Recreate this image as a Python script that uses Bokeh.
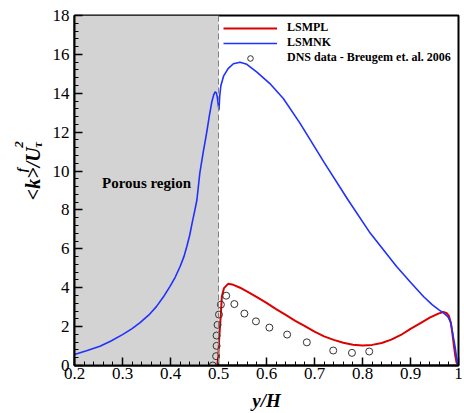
from math import pi
from bokeh.plotting import figure
from bokeh.layouts import row
from bokeh.models import Label, Span, Legend, LegendItem, FixedTicker
from bokeh.embed import file_html
from bokeh.resources import INLINE

# ---------------- data ----------------
x_ticks = [0.2, 0.3, 0.4, 0.5, 0.6, 0.7, 0.8, 0.9, 1.0]
x_tick_labels = ["0.2", "0.3", "0.4", "0.5", "0.6", "0.7", "0.8", "0.9", "1"]
y_ticks = [0, 2, 4, 6, 8, 10, 12, 14, 16, 18]

porous_region = [0.2, 0.5]
interface_x = 0.5

# LSMNK (blue)
nk_x = [0.200, 0.225, 0.253, 0.275, 0.300, 0.320, 0.336, 0.355, 0.371, 0.385,
        0.399, 0.410, 0.420, 0.428, 0.434, 0.440, 0.445, 0.450, 0.455,
        0.461, 0.468, 0.475, 0.481, 0.486, 0.490, 0.493, 0.4955, 0.4975, 0.4995,
        0.501, 0.5025, 0.505, 0.5105, 0.520, 0.531, 0.545, 0.559, 0.580, 0.607,
        0.635, 0.670, 0.720, 0.770, 0.816, 0.871, 0.900, 0.927, 0.945, 0.960,
        0.970, 0.978, 0.984, 0.989, 0.993, 0.9975, 1.000]
nk_y = [0.56, 0.76, 0.99, 1.25, 1.59, 1.90, 2.19, 2.60, 3.04, 3.52,
        4.07, 4.55, 5.09, 5.60, 6.12, 6.70, 7.32, 7.90, 8.51,
        9.88, 10.95, 11.93, 12.85, 13.55, 13.92, 14.07, 14.02, 13.80, 13.40,
        13.13, 13.85, 14.40, 14.88, 15.27, 15.52, 15.60, 15.49, 15.09, 14.50,
        13.73, 12.45, 10.45, 8.51, 6.81, 5.09, 4.28, 3.55, 3.13, 2.85,
        2.68, 2.50, 2.20, 1.50, 0.95, 0.14, 0.00]

# LSMPL (red)
pl_x = [0.4975, 0.4996, 0.5017, 0.5046, 0.507, 0.5115, 0.520, 0.531, 0.545,
        0.560, 0.580, 0.600, 0.620, 0.640, 0.660, 0.680, 0.700, 0.720, 0.740,
        0.760, 0.780, 0.800, 0.820, 0.840, 0.860, 0.880, 0.900, 0.920, 0.941,
        0.958, 0.968, 0.975, 0.980, 0.984, 0.987, 0.990, 0.993, 0.996, 1.000]
pl_y = [0.00, 0.48, 1.50, 2.53, 3.55, 3.98, 4.20, 4.15, 4.00,
        3.80, 3.52, 3.22, 2.90, 2.60, 2.30, 2.02, 1.74, 1.50, 1.32,
        1.17, 1.07, 1.03, 1.06, 1.16, 1.33, 1.57, 1.88, 2.17, 2.47,
        2.67, 2.75, 2.70, 2.55, 2.20, 1.70, 1.10, 0.55, 0.14, 0.00]

# DNS data - Breugem et al. 2006
dns_x = [0.488, 0.495, 0.496, 0.496, 0.498, 0.501, 0.505, 0.516, 0.533,
         0.554, 0.578, 0.606, 0.643, 0.684, 0.739, 0.778, 0.814]
dns_y = [0.00, 0.48, 1.01, 1.54, 2.09, 2.62, 3.13, 3.59, 3.16,
         2.67, 2.27, 1.95, 1.59, 1.19, 0.77, 0.65, 0.72]

# ---------------- styling constants ----------------
SERIF = "Liberation Serif"
LAB_W = 48          # width of the strip carrying the y-axis title
H = 413

# ---------------- y-axis title strip ----------------
lab = figure(width=LAB_W, height=H, x_range=(0, LAB_W), y_range=(0, H),
             output_backend="svg", toolbar_location=None,
             x_axis_location=None, y_axis_location=None, min_border=0)
lab.xgrid.visible = False
lab.ygrid.visible = False
lab.outline_line_color = None
lab.background_fill_color = "white"
lab.border_fill_color = "white"

def ylab(text, x, y, size):
    lab.add_layout(Label(x=x, y=y, angle=pi / 2, text=text, text_font=SERIF,
                         text_font_style="bold italic", text_font_size=size,
                         text_color="black", text_align="left",
                         text_baseline="alphabetic"))

ylab("<k>", 32, 195, "20px")
ylab("f", 21, 228, "13px")
ylab("/U", 32, 234, "20px")
ylab("2", 18.5, 257, "13px")
ylab("τ", 37, 257, "13px")

# ---------------- main plot ----------------
p = figure(width=464 - LAB_W, height=H, x_range=(0.2, 1.0), y_range=(0, 18),
           output_backend="svg", toolbar_location=None,
           min_border_left=74 - LAB_W, min_border_right=6, min_border_top=15,
           min_border_bottom=47)
p.xgrid.visible = False
p.ygrid.visible = False
p.background_fill_color = "white"
p.border_fill_color = "white"
p.outline_line_color = "black"
p.outline_line_width = 2

# porous region shading
p.quad(left=[porous_region[0]], right=[porous_region[1]], bottom=[0], top=[18],
       fill_color="#d3d3d3", line_color=None, level="underlay")
p.add_layout(Span(location=interface_x, dimension="height", line_color="#808080",
                  line_width=1, line_dash="6 3"))

r_pl = p.line(pl_x, pl_y, line_color="#dd0000", line_width=2)
r_nk = p.line(nk_x, nk_y, line_color="#2030ff", line_width=1.6)
r_dns = p.scatter(dns_x, dns_y, marker="circle", size=7, fill_color=None,
                  line_color="#333333", line_width=1)

# axes
minor_x = [round(0.2 + 0.02 * i, 2) for i in range(41)]
minor_y = [round(0.4 * i, 1) for i in range(46)]
p.xaxis.ticker = FixedTicker(ticks=x_ticks, minor_ticks=minor_x)
p.yaxis.ticker = FixedTicker(ticks=y_ticks, minor_ticks=minor_y)
p.xaxis.major_label_overrides = {t: l for t, l in zip(x_ticks, x_tick_labels)}

p.axis.axis_line_width = 2
p.axis.axis_line_color = "black"
p.axis.major_tick_in = 8
p.axis.major_tick_out = 0
p.axis.minor_tick_in = 4
p.axis.minor_tick_out = 0
p.axis.major_tick_line_width = 1.5
p.axis.minor_tick_line_width = 1
p.axis.major_tick_line_color = "black"
p.axis.minor_tick_line_color = "black"
p.axis.major_label_text_font = SERIF
p.axis.major_label_text_font_style = "normal"
p.axis.major_label_text_font_size = "17px"
p.axis.major_label_text_color = "black"

p.xaxis.major_label_standoff = 2
p.yaxis.major_label_standoff = 5
p.xaxis.axis_label = "y/H"
p.xaxis.axis_label_text_font = SERIF
p.xaxis.axis_label_text_font_style = "bold italic"
p.xaxis.axis_label_text_font_size = "19px"
p.xaxis.axis_label_text_color = "black"
p.xaxis.axis_label_standoff = 8

# porous region text
p.add_layout(Label(x=0.35, y=9.38, text="Porous region", text_font=SERIF,
                   text_font_style="bold", text_font_size="15px",
                   text_color="black", text_align="center",
                   text_baseline="middle"))

# legend
legend = Legend(items=[LegendItem(label="LSMPL", renderers=[r_pl]),
                       LegendItem(label="LSMNK", renderers=[r_nk]),
                       LegendItem(label="DNS data - Breugem et. al. 2006",
                                  renderers=[r_dns])],
                location=(149, 300), background_fill_alpha=0,
                border_line_alpha=0, padding=0, margin=0, spacing=0,
                glyph_width=54, glyph_height=14, label_height=14,
                label_standoff=10, label_text_font=SERIF,
                label_text_font_style="bold", label_text_font_size="12px",
                label_text_color="black")
p.add_layout(legend)

layout = row(lab, p, spacing=0)
open("out.html", "w").write(file_html(layout, INLINE))
